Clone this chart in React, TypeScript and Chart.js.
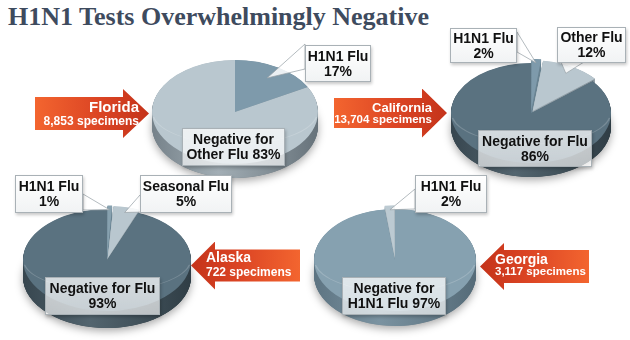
import React, { useEffect, useRef } from 'react';
import { Chart, registerables } from 'chart.js';

Chart.register(...registerables);

// ---------------- data ----------------
const chartTitle = 'H1N1 Tests Overwhelmingly Negative';

const floridaLabels = ['H1N1 Flu', 'Negative for Other Flu'];
const floridaValues = [17, 83];

const californiaLabels = ['H1N1 Flu', 'Other Flu', 'Negative for Flu'];
const californiaValues = [2, 12, 86];

const alaskaLabels = ['H1N1 Flu', 'Seasonal Flu', 'Negative for Flu'];
const alaskaValues = [1, 5, 93];

const georgiaLabels = ['Negative for H1N1 Flu', 'H1N1 Flu'];
const georgiaValues = [97, 2];

const stateNames = ['Florida', 'California', 'Alaska', 'Georgia'];
const specimenCounts = ['8,853', '13,704', '722', '3,117'];

// ---------------- layout / style ----------------
const W = 630;
const H = 340;
const SANS = "'Liberation Sans', Arial, sans-serif";

type Callout = {
  slice: number;
  box: [number, number, number, number];
  words: number;
  translucent?: boolean;
  wedge?: { f: number; p1: [number, number]; p2: [number, number] };
};

type ArrowSpec = {
  dir: 'left' | 'right';
  tail: number;
  tip: number;
  cy: number;
  bodyH: number;
  headH: number;
  headW: number;
  tailColor: string;
  tipColor: string;
  textEdge: number;
  base1: number;
  base2: number;
  f1: number;
  f2: number;
};

type PieSpec = {
  labels: string[];
  values: number[];
  colors: string[];
  sides: string[][];
  offsets: number[];
  cx: number;
  cy: number;
  rx: number;
  ry: number;
  depth: number;
  callouts: Callout[];
  arrow: ArrowSpec;
};

const LIGHT = '#b9c7cf';
const LIGHT_SIDE = ['#86949c', '#a3b0b7', '#7d8a92'];
const DARK = '#5a7280';
const DARK_SIDE = ['#37464f', '#53656f', '#2f3d45'];
const MID = '#7e9aab';
const MID_SIDE = ['#5b7584', '#6e8897', '#566f7d'];

const pies: PieSpec[] = [
  {
    labels: floridaLabels,
    values: floridaValues,
    colors: [MID, LIGHT],
    sides: [MID_SIDE, ['#76828a', '#a2aeb5', '#66727a']],
    offsets: [0, 0],
    cx: 235, cy: 112, rx: 83, ry: 52, depth: 14,
    callouts: [
      { slice: 0, box: [305, 45, 66, 37], words: 2, wedge: { f: 0.76, p1: [305, 44], p2: [305, 69] } },
      { slice: 1, box: [182, 128, 103, 38], words: 2, translucent: true },
    ],
    arrow: {
      dir: 'right', tail: 35, tip: 149, cy: 113.5, bodyH: 33, headH: 49, headW: 26,
      tailColor: '#f3652f', tipColor: '#c4331a', textEdge: 139, base1: 112, base2: 125, f1: 15, f2: 12,
    },
  },
  {
    labels: californiaLabels,
    values: californiaValues,
    colors: [MID, LIGHT, DARK],
    sides: [MID_SIDE, LIGHT_SIDE, DARK_SIDE],
    offsets: [14, 14, 0],
    cx: 531, cy: 113, rx: 80, ry: 50, depth: 14,
    callouts: [
      { slice: 0, box: [450, 28, 67, 35], words: 2, wedge: { f: 0.96, p1: [517, 32], p2: [517, 52] } },
      { slice: 1, box: [557, 27, 69, 36], words: 2, wedge: { f: 0.86, p1: [561, 62], p2: [584, 62] } },
      { slice: 2, box: [478, 130, 114, 37], words: 3, translucent: true },
    ],
    arrow: {
      dir: 'right', tail: 334, tip: 447, cy: 113, bodyH: 30, headH: 49, headW: 25,
      tailColor: '#f3652f', tipColor: '#c4331a', textEdge: 432, base1: 112, base2: 124, f1: 13, f2: 11.5,
    },
  },
  {
    labels: alaskaLabels,
    values: alaskaValues,
    colors: ['#87a1af', LIGHT, DARK],
    sides: [MID_SIDE, LIGHT_SIDE, DARK_SIDE],
    offsets: [12, 12, 0],
    cx: 107, cy: 260, rx: 84, ry: 51, depth: 17,
    callouts: [
      { slice: 0, box: [15, 175, 68, 38], words: 2, wedge: { f: 0.95, p1: [83, 194], p2: [83, 210] } },
      { slice: 1, box: [140, 175, 92, 38], words: 2, wedge: { f: 0.92, p1: [140, 195], p2: [148, 212] } },
      { slice: 2, box: [45, 277, 115, 38], words: 3, translucent: true },
    ],
    arrow: {
      dir: 'left', tail: 300, tip: 191, cy: 265.5, bodyH: 32, headH: 48, headW: 24,
      tailColor: '#f3652f', tipColor: '#c4331a', textEdge: 206, base1: 262, base2: 276, f1: 14, f2: 12,
    },
  },
  {
    labels: georgiaLabels,
    values: georgiaValues,
    colors: ['#86a1b0', '#bccad2'],
    sides: [['#5d7482', '#7b93a1', '#556b78'], LIGHT_SIDE],
    offsets: [0, 12],
    cx: 395, cy: 260, rx: 81, ry: 51, depth: 15,
    callouts: [
      { slice: 1, box: [415, 175, 72, 38], words: 2, wedge: { f: 0.95, p1: [415, 189], p2: [415, 209] } },
      { slice: 0, box: [342, 277, 104, 38], words: 2, translucent: true },
    ],
    arrow: {
      dir: 'left', tail: 589, tip: 480, cy: 266.5, bodyH: 33, headH: 47, headW: 24,
      tailColor: '#f3652f', tipColor: '#c4331a', textEdge: 495, base1: 264, base2: 276, f1: 14, f2: 11.5,
    },
  },
];

// ---------------- 3D pie plugin ----------------
const pie3d = {
  id: 'pie3d',
  beforeDatasetsDraw(chart: any, _args: any, opts: any) {
    const meta = chart.getDatasetMeta(0);
    const arcs = meta.data;
    if (!arcs.length) return;
    const cx = arcs[0].x;
    const cy = arcs[0].y;
    const R = arcs[0].outerRadius;
    const k = opts.k;
    const d = opts.depth / k;
    const ctx: CanvasRenderingContext2D = chart.ctx;
    ctx.save();
    ctx.translate(0, cy);
    ctx.scale(1, k);
    ctx.translate(0, -cy);

    // soft drop shadow
    ctx.save();
    ctx.shadowColor = 'rgba(0,0,0,0.35)';
    ctx.shadowBlur = 8;
    ctx.shadowOffsetY = 3;
    ctx.fillStyle = opts.sides[opts.sides.length - 1][0];
    ctx.beginPath();
    ctx.arc(cx, cy + d, R, 0, Math.PI * 2);
    ctx.fill();
    ctx.restore();

    // side walls: extrude every slice with the library's own arc drawing
    const grads = arcs.map((_a: any, i: number) => {
      const s = opts.sides[i];
      const g = ctx.createLinearGradient(cx - R, 0, cx + R, 0);
      g.addColorStop(0, s[0]);
      g.addColorStop(0.4, s[1]);
      g.addColorStop(1, s[2]);
      return g;
    });
    for (let s = d; s >= 0.5; s -= 0.75) {
      arcs.forEach((arc: any, i: number) => {
        const saved = arc.options;
        arc.options = { ...saved, backgroundColor: grads[i], borderColor: grads[i], borderWidth: 0 };
        ctx.save();
        ctx.translate(0, s);
        arc.draw(ctx);
        ctx.restore();
        arc.options = saved;
      });
    }
  },
  afterDatasetsDraw(chart: any, _args: any, opts: any) {
    const ctx: CanvasRenderingContext2D = chart.ctx;
    const meta = chart.getDatasetMeta(0);
    const arcs = meta.data;
    if (!arcs.length) return;
    const cx = arcs[0].x;
    const cy = arcs[0].y;
    const R = arcs[0].outerRadius;
    // subtle rim highlight on the front edge
    ctx.save();
    ctx.translate(0, cy);
    ctx.scale(1, opts.k);
    ctx.translate(0, -cy);
    ctx.strokeStyle = 'rgba(255,255,255,0.18)';
    ctx.lineWidth = 1.5;
    ctx.beginPath();
    ctx.arc(cx, cy, R - 0.5, 0.05 * Math.PI, 0.95 * Math.PI);
    ctx.stroke();
    ctx.restore();
    ctx.restore();

    // callout wedges
    (opts.callouts as Callout[]).forEach((c) => {
      if (!c.wedge) return;
      const arc = arcs[c.slice];
      const h = (arc.startAngle + arc.endAngle) / 2;
      const off = (arc.options.offset || 0) / 4;
      const rr = off + c.wedge.f * R;
      const ax = cx + Math.cos(h) * rr;
      const ay = cy + Math.sin(h) * rr * opts.k;
      ctx.save();
      ctx.beginPath();
      ctx.moveTo(ax, ay);
      ctx.lineTo(c.wedge.p1[0], c.wedge.p1[1]);
      ctx.lineTo(c.wedge.p2[0], c.wedge.p2[1]);
      ctx.closePath();
      ctx.fillStyle = 'rgba(255,255,255,0.85)';
      ctx.fill();
      ctx.strokeStyle = 'rgba(150,160,166,0.9)';
      ctx.lineWidth = 0.8;
      ctx.stroke();
      ctx.restore();
    });
  },
};

function PieCanvas({ pie }: { pie: PieSpec }) {
  const ref = useRef<HTMLCanvasElement | null>(null);
  useEffect(() => {
    const canvas = ref.current;
    if (!canvas) return;
    const padding = {
      left: Math.max(0, 2 * pie.cx - W),
      right: Math.max(0, W - 2 * pie.cx),
      top: Math.max(0, 2 * pie.cy - H),
      bottom: Math.max(0, H - 2 * pie.cy),
    };
    const chart = new Chart(canvas, {
      type: 'pie',
      data: {
        labels: pie.labels,
        datasets: [
          {
            data: pie.values,
            backgroundColor: pie.colors,
            borderWidth: 0,
            offset: pie.offsets,
            radius: pie.rx,
            clip: false,
          } as any,
        ],
      },
      options: {
        responsive: false,
        animation: false,
        events: [],
        devicePixelRatio: 1,
        layout: { padding },
        plugins: {
          legend: { display: false },
          tooltip: { enabled: false },
          pie3d: { k: pie.ry / pie.rx, depth: pie.depth, sides: pie.sides, callouts: pie.callouts },
        } as any,
      },
      plugins: [pie3d],
    });
    return () => chart.destroy();
  }, [pie]);
  return (
    <canvas
      ref={ref}
      width={W}
      height={H}
      style={{ position: 'absolute', left: 0, top: 0, width: W, height: H }}
    />
  );
}

function textTop(baseline: number, size: number) {
  return baseline - size * 0.8465;
}

function Arrow({ a, name, count }: { a: ArrowSpec; name: string; count: string }) {
  const left = Math.min(a.tail, a.tip);
  const width = Math.abs(a.tip - a.tail);
  const h = a.headH;
  const top = a.cy - h / 2;
  const b0 = (h - a.bodyH) / 2;
  const b1 = b0 + a.bodyH;
  const hw = a.headW;
  const poly =
    a.dir === 'right'
      ? `polygon(0px ${b0}px, ${width - hw}px ${b0}px, ${width - hw}px 0px, ${width}px ${h / 2}px, ${width - hw}px ${h}px, ${width - hw}px ${b1}px, 0px ${b1}px)`
      : `polygon(${width}px ${b0}px, ${hw}px ${b0}px, ${hw}px 0px, 0px ${h / 2}px, ${hw}px ${h}px, ${hw}px ${b1}px, ${width}px ${b1}px)`;
  const grad =
    a.dir === 'right'
      ? `linear-gradient(to right, ${a.tailColor}, #dc4524 55%, ${a.tipColor})`
      : `linear-gradient(to left, ${a.tailColor}, #dc4524 55%, ${a.tipColor})`;
  const lineStyle = (size: number, baseline: number): React.CSSProperties => {
    const base: React.CSSProperties = {
      position: 'absolute',
      top: textTop(baseline, size),
      fontFamily: SANS,
      fontWeight: 'bold',
      fontSize: size,
      lineHeight: `${size}px`,
      color: '#ffffff',
      whiteSpace: 'nowrap',
    };
    if (a.dir === 'right') {
      return { ...base, left: a.textEdge - 200, width: 200, textAlign: 'right' };
    }
    return { ...base, left: a.textEdge, textAlign: 'left' };
  };
  return (
    <>
      <div
        style={{
          position: 'absolute',
          left,
          top,
          width,
          height: h,
          clipPath: poly,
          background: grad,
        }}
      />
      <div style={lineStyle(a.f1, a.base1)}>{name}</div>
      <div style={lineStyle(a.f2, a.base2)}>{count} specimens</div>
    </>
  );
}

function LabelBox({ c, pie }: { c: Callout; pie: PieSpec }) {
  const full = `${pie.labels[c.slice]} ${pie.values[c.slice]}%`;
  const words = full.split(' ');
  const line1 = words.slice(0, c.words).join(' ');
  const line2 = words.slice(c.words).join(' ');
  const [x, y, w, h] = c.box;
  return (
    <div
      style={{
        position: 'absolute',
        left: x,
        top: y,
        width: w,
        height: h,
        boxSizing: 'border-box',
        border: '1px solid #a9b1b6',
        background: c.translucent
          ? 'linear-gradient(to bottom, rgba(255,255,255,0.74), rgba(255,255,255,0.66))'
          : 'linear-gradient(to bottom, #ffffff, #f1f3f4)',
        boxShadow: '1px 2px 3px rgba(0,0,0,0.22)',
        display: 'flex',
        flexDirection: 'column',
        alignItems: 'center',
        justifyContent: 'center',
        fontFamily: SANS,
        fontWeight: 'bold',
        fontSize: 14,
        lineHeight: '15px',
        color: '#111111',
        whiteSpace: 'nowrap',
      }}
    >
      <div>{line1}</div>
      <div>{line2}</div>
    </div>
  );
}

export default function App() {
  return (
    <div
      style={{
        position: 'absolute',
        left: 0,
        top: 0,
        width: W,
        height: H,
        overflow: 'hidden',
        background: '#ffffff',
      }}
    >
      <div
        style={{
          position: 'absolute',
          left: 8,
          top: 4,
          fontFamily: "'Liberation Serif', 'Times New Roman', serif",
          fontWeight: 'bold',
          fontSize: 26,
          lineHeight: '26px',
          color: '#3e4b5e',
          whiteSpace: 'nowrap',
        }}
      >
        {chartTitle}
      </div>
      {pies.map((p, i) => (
        <PieCanvas key={`pie-${i}`} pie={p} />
      ))}
      {pies.map((p, i) => (
        <Arrow key={`arrow-${i}`} a={p.arrow} name={stateNames[i]} count={specimenCounts[i]} />
      ))}
      {pies.map((p, i) =>
        p.callouts.map((c, j) => <LabelBox key={`box-${i}-${j}`} c={c} pie={p} />)
      )}
    </div>
  );
}
